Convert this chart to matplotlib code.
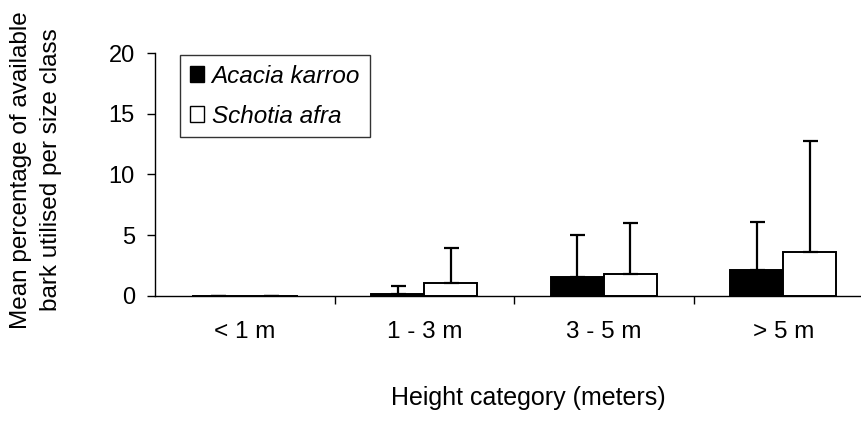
import numpy as np
import matplotlib.pyplot as plt
from matplotlib.patches import Patch

plt.rcParams['font.family'] = ['Liberation Sans', 'DejaVu Sans']

# Data
categories = ["< 1 m", "1 - 3 m", "3 - 5 m", "> 5 m"]
acacia_mean = [0.0, 0.17, 1.56, 2.15]
acacia_err = [0.0, 0.66, 3.47, 3.95]
schotia_mean = [0.0, 1.03, 1.83, 3.6]
schotia_err = [0.0, 2.94, 4.17, 9.2]
yticks = [0, 5, 10, 15, 20]

fig = plt.figure(figsize=(8.61, 4.21), dpi=100)
ax = fig.add_axes([155 / 861, 125.3 / 421, 718 / 861, 242.4 / 421])

x = np.arange(len(categories)) + 0.5
w = 0.295

ax.bar(x - w / 2, acacia_mean, w, color="black", edgecolor="black", linewidth=1.4)
ax.bar(x + w / 2, schotia_mean, w, color="white", edgecolor="black", linewidth=1.4)

err_style = dict(fmt="none", ecolor="black", elinewidth=1.6, capsize=5.4, capthick=1.6)
ax.errorbar(x - w / 2, acacia_mean, yerr=[np.zeros(4), acacia_err], **err_style)
ax.errorbar(x + w / 2, schotia_mean, yerr=[np.zeros(4), schotia_err], **err_style)

ax.set_xlim(0, 4)
ax.set_ylim(0, 20)
ax.set_yticks(yticks)
ax.set_yticklabels([str(t) for t in yticks])
ax.tick_params(axis="y", direction="out", length=5.5, width=1, pad=9, labelsize=17)

# category boundaries as major ticks, labels on the centres
ax.set_xticks([1, 2, 3])
ax.set_xticklabels([])
ax.set_xticks(x, minor=True)
ax.set_xticklabels(categories, minor=True)
ax.tick_params(axis="x", which="major", direction="out", length=5.5, width=1)
ax.tick_params(axis="x", which="minor", length=0, pad=18, labelsize=17.5)

for s in ["top", "right"]:
    ax.spines[s].set_visible(False)
for s in ["left", "bottom"]:
    ax.spines[s].set_linewidth(1)

fig.text(528 / 861, 1 - 398 / 421, "Height category (meters)", ha="center", va="center", fontsize=18)
fig.text(36 / 861, 1 - 170 / 421, "Mean percentage of available\nbark utilised per size class",
         ha="center", va="center", rotation=90, fontsize=17.5, multialignment="center", linespacing=1.5)

handles = [Patch(facecolor="black", edgecolor="black"), Patch(facecolor="white", edgecolor="black")]
leg = fig.legend(handles, ["Acacia karroo", "Schotia afra"], loc="upper left",
                 bbox_to_anchor=(180 / 861, 1 - 55 / 421), borderaxespad=0, fancybox=False,
                 edgecolor="black", prop={"style": "italic", "size": 17.5},
                 handlelength=0.6, handleheight=0.6, handletextpad=0.3, labelspacing=0.7,
                 borderpad=0.4)
leg.get_frame().set_linewidth(1)

fig.savefig("out.png", dpi=100)
